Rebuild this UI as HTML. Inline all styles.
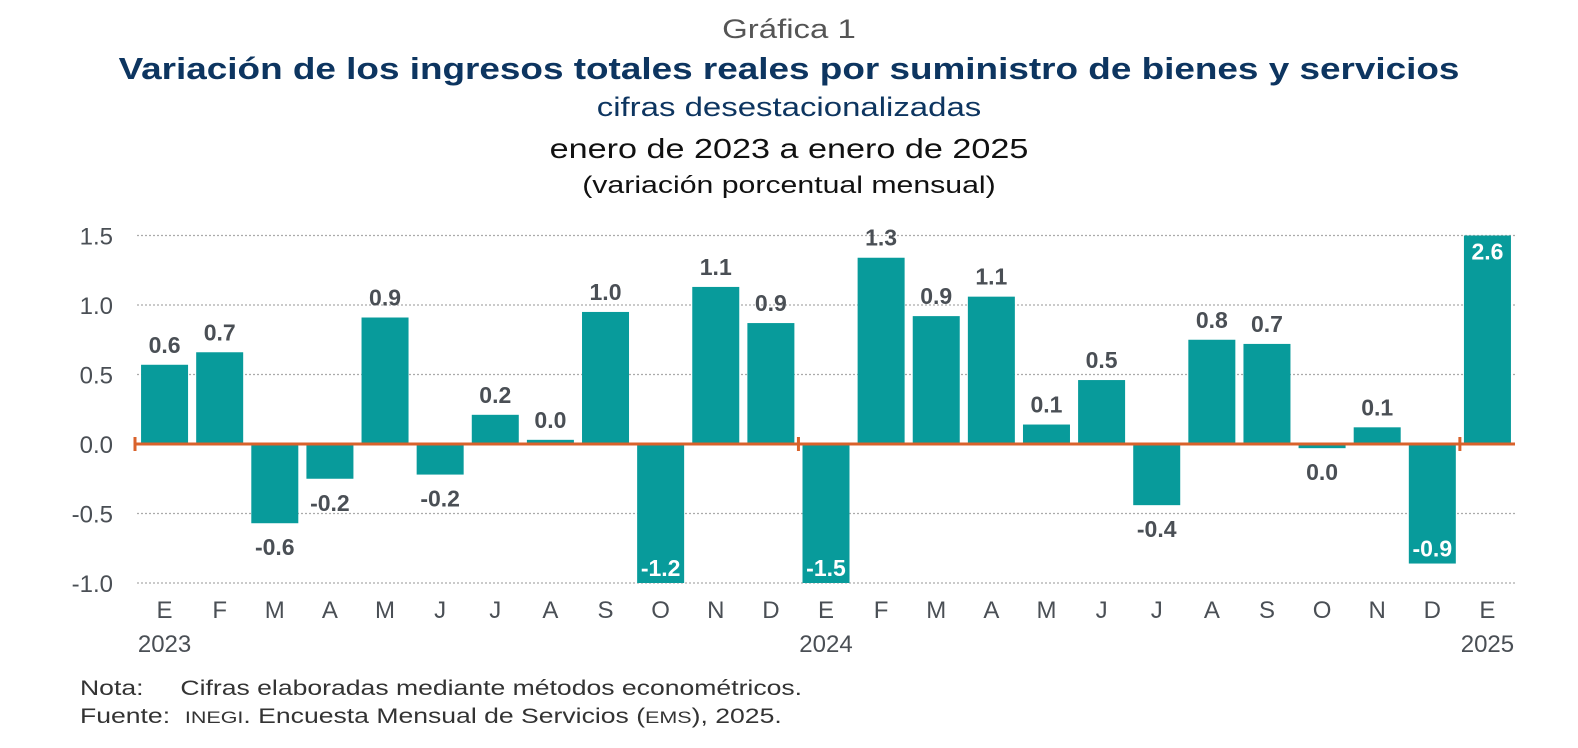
<!DOCTYPE html>
<html><head><meta charset="utf-8"><style>
body{margin:0;width:1578px;height:748px;background:#fff;font-family:"Liberation Sans",sans-serif;position:relative;overflow:hidden}
.t{position:absolute;left:0;width:1578px;text-align:center;white-space:nowrap;transform:scaleX(1.22);transform-origin:789px 0}
.n{position:absolute;left:80px;font-size:21px;color:#333;white-space:nowrap;transform:scaleX(1.265);transform-origin:0 0}
</style></head><body>
<div class="t" style="top:14px;font-size:27px;color:#555">Gráfica 1</div>
<div class="t" style="top:51px;font-size:31px;font-weight:bold;color:#0d3560;transform:scaleX(1.19)">Variación de los ingresos totales reales por suministro de bienes y servicios</div>
<div class="t" style="top:92px;font-size:27px;color:#0d3560">cifras desestacionalizadas</div>
<div class="t" style="top:133px;font-size:28px;color:#111">enero de 2023 a enero de 2025</div>
<div class="t" style="top:172px;font-size:24px;color:#111;transform:scaleX(1.26)">(variación porcentual mensual)</div>
<svg id="c" width="1578" height="748" style="position:absolute;left:0;top:0"></svg>
<div class="n" style="top:677px">Nota:&nbsp;&nbsp;&nbsp;&nbsp; Cifras elaboradas mediante métodos econométricos.</div>
<div class="n" style="top:705px">Fuente:&nbsp; <span style="font-size:17px">INEGI</span>. Encuesta Mensual de Servicios (<span style="font-size:17px">EMS</span>), 2025.</div>
<script>
const months=["E","F","M","A","M","J","J","A","S","O","N","D","E","F","M","A","M","J","J","A","S","O","N","D","E"];
const years={0:"2023",12:"2024",24:"2025"};
const values=[0.57,0.66,-0.57,-0.25,0.91,-0.22,0.21,0.03,0.95,-1.2,1.13,0.87,-1.5,1.34,0.92,1.06,0.14,0.46,-0.44,0.75,0.72,-0.03,0.12,-0.86,2.6];
const labels=["0.6","0.7","-0.6","-0.2","0.9","-0.2","0.2","0.0","1.0","-1.2","1.1","0.9","-1.5","1.3","0.9","1.1","0.1","0.5","-0.4","0.8","0.7","0.0","0.1","-0.9","2.6"];
const ticks=[1.5,1.0,0.5,0.0,-0.5,-1.0];
const tickLabels=["1.5","1.0","0.5","0.0","-0.5","-1.0"];
const svg=document.getElementById('c'),NS="http://www.w3.org/2000/svg";
const X0=137,X1=1515,ymin=-1.0,ymax=1.5;
const y=v=>444-139*v;
const step=(X1-X0)/months.length;
const xc=i=>X0+step*(i+0.5);
function mk(t,a,txt){const e=document.createElementNS(NS,t);for(const k in a)e.setAttribute(k,a[k]);if(txt!=null)e.textContent=txt;svg.appendChild(e);return e;}
ticks.forEach((v,i)=>{
 if(v!==0){const g=mk('line',{x1:X0,x2:X1,y1:y(v),y2:y(v),stroke:'#aaa','stroke-width':1.2,'stroke-dasharray':'2,2'});
 
 }
 const t=mk('text',{x:113,y:y(v)+9,'text-anchor':'end','font-size':24,fill:'#4a4f55'},tickLabels[i]);
 
 
});
values.forEach((v,i)=>{
 const vc=Math.max(ymin,Math.min(ymax,v));
 const top=y(Math.max(vc,0)),bot=y(Math.min(vc,0));
 const r=mk('rect',{x:xc(i)-23.5,y:top,width:47,height:bot-top,fill:'#089b9b'});
 
 
 let ly,col='#4a4f55';
 if(v>=0){ if(v>ymax){ly=top+24;col='#fff';} else ly=top-12; }
 else { if(bot+32>y(ymin)){ly=bot-7;col='#fff';} else ly=bot+32; }
 const l=mk('text',{x:xc(i),y:ly,'text-anchor':'middle','font-size':23,'font-weight':'bold',fill:col},labels[i]);
 
 
 const m=mk('text',{x:xc(i),y:618,'text-anchor':'middle','font-size':24,fill:'#4a4f55'},months[i]);
 
 
 if(years[i]){const yy=mk('text',{x:xc(i),y:652,'text-anchor':'middle','font-size':24,fill:'#4a4f55'},years[i]);
 
 }
});
const z=mk('line',{x1:X0-2,x2:X1,y1:y(0),y2:y(0),stroke:'#d9622b','stroke-width':3});


[X0-2,X0+step*12,X0+step*24].forEach(x=>{const k=mk('line',{x1:x,x2:x,y1:y(0)-7,y2:y(0)+7,stroke:'#d9622b','stroke-width':3});
 
 });
</script>
</body></html>
